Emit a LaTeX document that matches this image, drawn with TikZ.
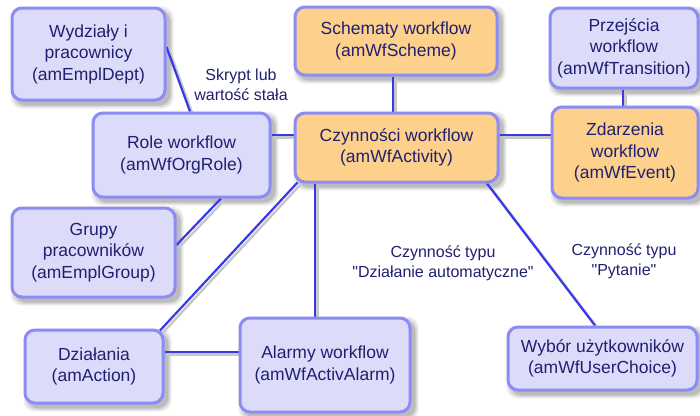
\documentclass[tikz,border=0pt]{standalone}
\usepackage{fontspec}
\setmainfont{Liberation Sans}[Ligatures=TeXOff]
\usetikzlibrary{calc}
\definecolor{boxblue}{RGB}{220,220,250}
\definecolor{boxorange}{RGB}{253,208,140}
\definecolor{edgeblue}{RGB}{140,140,245}
\definecolor{linkblue}{RGB}{56,56,232}
\definecolor{txtblue}{RGB}{32,32,112}
\pgfdeclarelayer{bg}
\pgfdeclarelayer{back}
\pgfsetlayers{back,bg,main}
\begin{document}
\begin{tikzpicture}[x=1pt,y=-1pt,
  box/.style={draw=edgeblue, line width=3pt, rounded corners=10pt, align=center,
    text=txtblue, font=\fontsize{17.5}{21.5}\selectfont, inner sep=0pt},
  bluebox/.style={box, fill=boxblue},
  orangebox/.style={box, fill=boxorange},
  lbl/.style={align=center, text=txtblue, font=\fontsize{16}{20}\selectfont, inner sep=0pt},
  link/.style={draw=linkblue, line width=2.2pt},
  linkshadow/.style={draw=black!22, line width=2.5pt, transform canvas={xshift=2.5pt,yshift=-2.5pt}},
  softshadow/.style={fill=black, opacity=#1, rounded corners=11pt}
]
\useasboundingbox (0,0) rectangle (700,415);

\node[bluebox, minimum width=153pt, minimum height=92pt] (wyd) at (88.5,54) {Wydziały i\\pracownicy\\(amEmplDept)};
\node[orangebox, minimum width=202pt, minimum height=68pt] (sch) at (396,41) {Schematy workflow\\(amWfScheme)};
\node[bluebox, minimum width=148pt, minimum height=80pt] (prz) at (624,48) {Przejścia\\workflow\\(amWfTransition)};
\node[orangebox, minimum width=203pt, minimum height=69pt] (czy) at (396.5,147.5) {Czynności workflow\\(amWfActivity)};
\node[orangebox, minimum width=146pt, minimum height=91pt] (zda) at (625,152.5) {Zdarzenia\\workflow\\(amWfEvent)};
\node[bluebox, minimum width=177pt, minimum height=84pt] (rol) at (181.5,155) {Role workflow\\(amWfOrgRole)};
\node[bluebox, minimum width=163pt, minimum height=89pt] (gru) at (93.5,252.5) {Grupy\\pracowników\\(amEmplGroup)};
\node[bluebox, minimum width=138pt, minimum height=73pt] (dzi) at (94,366.5) {Działania\\(amAction)};
\node[bluebox, minimum width=170pt, minimum height=94pt] (ala) at (325,365) {Alarmy workflow\\(amWfActivAlarm)};
\node[bluebox, minimum width=189pt, minimum height=63pt] (wyb) at (602.5,358.5) {Wybór użytkowników\\(amWfUserChoice)};

\node[lbl] (l1) at (241,85) {Skrypt lub\\wartość stała};
\node[lbl] (l2) at (443,263) {Czynność typu\\"Działanie automatyczne"};
\node[lbl] (l3) at (624,261) {Czynność typu\\"Pytanie"};

\begin{pgfonlayer}{back}
\fill[white] (0,0) rectangle (700,415);
\foreach \n in {wyd,sch,prz,czy,zda,rol,gru,dzi,ala,wyb}{
  \fill[softshadow=0.07] ($(\n.north west)+(0,0)$) rectangle ($(\n.south east)+(7,7)$);
  \fill[softshadow=0.09] ($(\n.north west)+(2,2)$) rectangle ($(\n.south east)+(5.5,5.5)$);
  \fill[softshadow=0.12] ($(\n.north west)+(4,4)$) rectangle ($(\n.south east)+(4,4)$);
}
\end{pgfonlayer}

\begin{pgfonlayer}{bg}
\foreach \s in {linkshadow,link}{
  \draw[\s] ([xshift=-3pt]sch.south) -- ([xshift=-3.5pt]czy.north);
  \draw[\s] ([xshift=-1pt]prz.south) -- ([xshift=-2pt]zda.north);
  \draw[\s] ([yshift=12.5pt]czy.east) -- ([yshift=17.5pt]zda.west);
  \draw[\s] ([yshift=12.5pt]czy.west) -- ([yshift=20pt]rol.east);
  \draw[\s] ([yshift=7pt]wyd.east) -- ([xshift=8.5pt]rol.north);
  \draw[\s] ([xshift=39.5pt]rol.south) -- ([yshift=7.5pt]gru.east);
  \draw[\s] ([xshift=-99pt,yshift=1pt]czy.south) -- ([xshift=66pt,yshift=-2pt]dzi.north);
  \draw[\s] ([xshift=-81.5pt]czy.south) -- ([xshift=-10pt]ala.north);
  \draw[\s] ([yshift=14.5pt]dzi.east) -- ([yshift=13pt]ala.west);
  \draw[\s] ([xshift=90.5pt]czy.south) -- ([xshift=-7.5pt]wyb.north);
}
\end{pgfonlayer}
\end{tikzpicture}
\end{document}
